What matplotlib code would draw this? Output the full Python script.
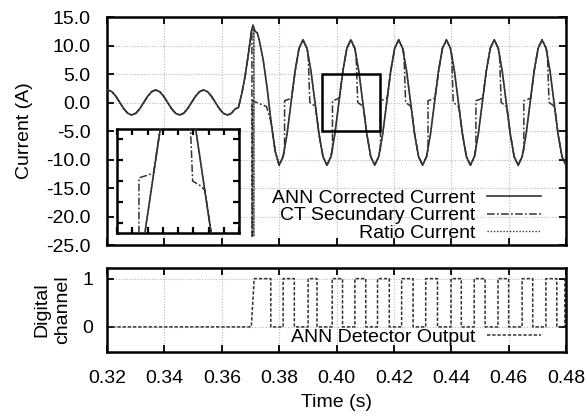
import numpy as np
import matplotlib
matplotlib.use("Agg")
import matplotlib.pyplot as plt
from matplotlib.ticker import MultipleLocator, FormatStrFormatter
from matplotlib.patches import Rectangle

plt.rcParams['font.family'] = ['Liberation Sans', 'DejaVu Sans']
plt.rcParams['axes.unicode_minus'] = True

# ---------------- data ----------------
STEP = 1 / 720.0          # sampling grid: 30 degrees of a 60 Hz cycle

# pre-fault current (same for all series)
pre_t = 0.3203 + STEP * np.arange(-1, 33)
pre_v = [1.9, 2.2, 1.9, 1.1, 0.0, -1.1, -1.9, -2.2, -1.9, -1.1, 0.0, 1.1,
         1.9, 2.2, 1.9, 1.1, 0.0, -1.1, -1.9, -2.2, -1.9, -1.1, 0.0, 1.1,
         1.9, 2.2, 1.9, 1.1, 0.0, -1.1, -1.9, -2.2, -1.9, -1.1]

# fault inception (ANN corrected)
fault_t = [0.3658, 0.3670, 0.3681, 0.3690, 0.3698, 0.3704, 0.3709, 0.3716, 0.3724]
fault_v = [-0.9, 1.6, 4.5, 7.5, 10.4, 12.6, 13.6, 12.5, 12.2]

# post-fault ANN corrected current
post_t = 0.38833 + STEP * np.arange(-11, 67)
post_v = [11.0, 7.5, 2.5, -3.5, -8.5, -11.0,
          -9.5, -5.5, 0.0, 5.5, 9.5, 11.0,
          9.5, 5.5, 0.0, -5.5, -9.5, -11.0, -9.5, -5.5, 0.0, 5.5, 9.5, 11.0,
          9.5, 5.5, 0.0, -5.5, -9.5, -11.0, -9.5, -5.5, 0.0, 5.5, 9.5, 11.0,
          9.5, 5.5, 0.0, -5.5, -9.5, -11.0, -9.5, -5.5, 0.0, 5.5, 9.5, 11.0,
          9.5, 5.5, 0.0, -5.5, -9.5, -11.0, -9.5, -5.5, 0.0, 5.5, 9.5, 11.0,
          9.5, 5.5, 0.0, -5.5, -9.5, -11.0, -9.5, -5.5, 0.0, 5.5, 9.5, 11.0,
          9.5, 5.5, 0.0, -5.5, -9.5, -11.0]

# ratio current spike at fault
ratio_spike_t = [0.37115, 0.3712, 0.37125]
ratio_spike_v = [13.0, -23.5, 12.8]

# CT secondary current after fault (saturated)
ct_t = [0.3658, 0.3670, 0.3681, 0.3690, 0.3698, 0.3704, 0.3705, 0.3706, 0.3707,
        0.3756, 0.3772, 0.3786,
        0.3800, 0.3814, 0.3819, 0.3819, 0.3835, 0.3843, 0.3856, 0.3869,
        0.3883, 0.3897, 0.3901, 0.3907, 0.3921, 0.3927, 0.3939, 0.3953,
        0.3967, 0.3981, 0.3986, 0.3986, 0.4002, 0.4010, 0.4022, 0.4036,
        0.4050, 0.4064, 0.4068, 0.4074, 0.4088, 0.4094, 0.4106, 0.4119,
        0.4133, 0.4147, 0.4153, 0.4153, 0.4169, 0.4177, 0.4189, 0.4203,
        0.4217, 0.4231, 0.4235, 0.4241, 0.4255, 0.4261, 0.4272, 0.4286,
        0.4300, 0.4314, 0.4319, 0.4319, 0.4335, 0.4343, 0.4356, 0.4369,
        0.4383, 0.4397, 0.4401, 0.4407, 0.4421, 0.4427, 0.4439, 0.4453,
        0.4467, 0.4481, 0.4486, 0.4486, 0.4502, 0.4510, 0.4522, 0.4536,
        0.4550, 0.4564, 0.4568, 0.4574, 0.4588, 0.4594, 0.4606, 0.4619,
        0.4633, 0.4647, 0.4653, 0.4653, 0.4669, 0.4677, 0.4689, 0.4703,
        0.4717, 0.4731, 0.4735, 0.4741, 0.4755, 0.4761, 0.4772, 0.4786,
        0.4800]
ct_v = [-0.9, 1.6, 4.5, 7.5, 10.4, 12.6, 13.0, -23.5, 0.3,
        -0.7, -3.5, -8.5,
        -11.0, -9.5, -8.2, 0.3, 0.6, 0.8, 5.5, 9.5,
        11.0, 9.5, 8.6, 0.0, -0.5, -0.9, -5.5, -9.5,
        -11.0, -9.5, -8.2, 0.3, 0.6, 0.8, 5.5, 9.5,
        11.0, 9.5, 8.6, 0.0, -0.5, -0.9, -5.5, -9.5,
        -11.0, -9.5, -8.2, 0.3, 0.6, 0.8, 5.5, 9.5,
        11.0, 9.5, 8.6, 0.0, -0.5, -0.9, -5.5, -9.5,
        -11.0, -9.5, -8.2, 0.3, 0.6, 0.8, 5.5, 9.5,
        11.0, 9.5, 8.6, 0.0, -0.5, -0.9, -5.5, -9.5,
        -11.0, -9.5, -8.2, 0.3, 0.6, 0.8, 5.5, 9.5,
        11.0, 9.5, 8.6, 0.0, -0.5, -0.9, -5.5, -9.5,
        -11.0, -9.5, -8.2, 0.3, 0.6, 0.8, 5.5, 9.5,
        11.0, 9.5, 8.6, 0.0, -0.5, -0.9, -5.5, -9.5,
        -11.0]

# ANN detector output (digital) transitions
dig_rise = [0.3703, 0.3814, 0.3901, 0.3985, 0.4064, 0.4143, 0.4227, 0.4311,
            0.4399, 0.4480, 0.4563, 0.4647, 0.4730, 0.4796]
dig_fall = [0.3771, 0.3853, 0.3932, 0.4021, 0.4102, 0.4184, 0.4267, 0.4352,
            0.4435, 0.4518, 0.4600, 0.4684, 0.4768]

x_ticks = [0.32, 0.34, 0.36, 0.38, 0.40, 0.42, 0.44, 0.46, 0.48]
zoom_box = (0.395, 0.415, -5.0, 5.0)

# ---------------- assemble series ----------------
ann_t = np.concatenate([pre_t, fault_t, post_t])
ann_v = np.concatenate([pre_v, fault_v, post_v])

r_t = np.concatenate([ann_t, ratio_spike_t])
r_v = np.concatenate([ann_v, ratio_spike_v])
order = np.argsort(r_t, kind='stable')
ratio_t, ratio_v = r_t[order], r_v[order]

ct_all_t = np.concatenate([pre_t, ct_t])
ct_all_v = np.concatenate([pre_v, ct_v])

dt = [0.32]
dv = [0]
for i, r in enumerate(dig_rise):
    if i == 0:
        dt += [r, r + 0.0010]
    else:
        dt += [r, r]
    dv += [0, 1]
    if i < len(dig_fall):
        f = dig_fall[i]
        dt += [f, f]
        dv += [1, 0]
dt.append(0.48)
dv.append(1)

# ---------------- styling ----------------
LC = '#333333'
FS = 14
s_ann = dict(color=LC, lw=1.2, ls='-')
s_ct = dict(color=LC, lw=1.1, ls=(0, (5, 1.5, 1.2, 1.5)))
s_ratio = dict(color=LC, lw=1.0, ls=(0, (1, 1.3)))
s_dig = dict(color=LC, lw=1.1, ls=(0, (2.2, 1.2)))

fig = plt.figure(figsize=(5.87, 4.19), dpi=100)
ax = fig.add_axes([107/587, 1-245/419, 459/587, 228/419])
ax2 = fig.add_axes([107/587, 1-352/419, 459/587, 84/419])
axi = fig.add_axes([117/587, 1-233/419, 122/587, 104/419])

def style(a, lw=1.8):
    for s in a.spines.values():
        s.set_linewidth(lw)
        s.set_color('black')
    a.tick_params(direction='in', top=True, right=True, length=5, width=1.3,
                  labelsize=FS, colors='black')

# main axes
ax.plot(ratio_t, ratio_v, label='Ratio Current', zorder=2, **s_ratio)
ax.plot(ct_all_t, ct_all_v, label='CT Secundary Current', zorder=3, **s_ct)
ax.plot(ann_t, ann_v, label='ANN Corrected Current', zorder=4, **s_ann)
ax.set_xlim(0.32, 0.48)
ax.set_ylim(-25, 15)
ax.set_xticks(x_ticks)
ax.yaxis.set_major_locator(MultipleLocator(5))
ax.yaxis.set_major_formatter(FormatStrFormatter('%.1f'))
ax.tick_params(labelbottom=False)
ax.grid(True, color='#b8b8b8', ls=(0, (1, 1.5)), lw=0.8)
ax.set_axisbelow(True)
style(ax)
ax.tick_params(axis='y', pad=12)
ax.set_ylabel('Current (A)', fontsize=FS, labelpad=9)
x0, x1, y0, y1 = zoom_box
ax.add_patch(Rectangle((x0, y0), x1 - x0, y1 - y0, fill=False, ec='black', lw=1.8, zorder=6))

h, l = ax.get_legend_handles_labels()
leg = ax.legend([h[2], h[1], h[0]], [l[2], l[1], l[0]], loc='lower right',
                bbox_to_anchor=(0.945, 0.015), markerfirst=False, frameon=False,
                fontsize=FS, handlelength=2.75, handletextpad=0.6,
                labelspacing=-0.02, borderaxespad=0.0, borderpad=0.0)
for t in leg.get_texts():
    t.set_ha('right')
leg._legend_box.align = 'right'

# inset
axi.plot(ratio_t, ratio_v, zorder=2, **s_ratio)
axi.plot(ct_all_t, ct_all_v, zorder=3, **s_ct)
axi.plot(ann_t, ann_v, zorder=4, **s_ann)
axi.set_xlim(x0, x1)
axi.set_ylim(y0, y1)
axi.xaxis.set_major_locator(MultipleLocator(0.0025))
axi.yaxis.set_major_locator(MultipleLocator(2))
style(axi, lw=1.8)
axi.tick_params(labelbottom=False, labelleft=False, length=4, width=1.6)
axi.set_facecolor('white')

# digital axes
ax2.plot(dt, dv, label='ANN Detector Output', **s_dig)
ax2.set_xlim(0.32, 0.48)
ax2.set_ylim(-0.52, 1.22)
ax2.set_xticks(x_ticks)
ax2.set_xticklabels([f'{v:.2f}' for v in x_ticks])
ax2.set_yticks([0, 1])
ax2.grid(True, color='#b8b8b8', ls=(0, (1, 1.5)), lw=0.8)
ax2.set_axisbelow(True)
style(ax2)
ax2.tick_params(axis='y', pad=10)
ax2.tick_params(axis='x', pad=13)
ax2.set_xlabel('Time (s)', fontsize=FS, labelpad=5)
ax2.set_ylabel('Digital\nchannel', fontsize=FS, labelpad=8, linespacing=1.3)
leg2 = ax2.legend(loc='lower right', bbox_to_anchor=(0.945, 0.07), markerfirst=False,
                  frameon=False, fontsize=FS, handlelength=2.75, handletextpad=0.6,
                  borderaxespad=0.0, borderpad=0.0)

fig.savefig('out.png', dpi=100)
